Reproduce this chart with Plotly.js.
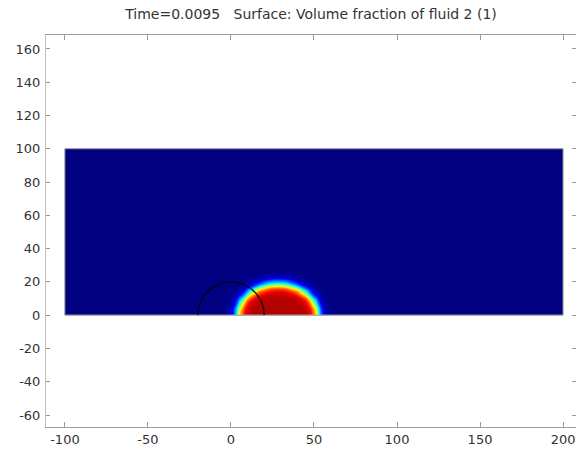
<!DOCTYPE html>
<html>
<head>
<meta charset="utf-8">
<script src="https://cdn.plot.ly/plotly-3.0.1.min.js"></script>
<style>html,body{margin:0;padding:0;background:#fff;}#plot{width:576px;height:451px;}</style>
</head>
<body>
<div id="plot"></div>
<script>
// ---- data ----
const titleText = 'Time=0.0095\u00a0\u00a0\u00a0Surface: Volume fraction of fluid 2 (1)';
const domainX = [-100, 200];          // fluid domain extent (x)
const domainY = [0, 100];             // fluid domain extent (y)
const circleCenterX = [0];            // initial droplet outline
const circleCenterY = [0];
const circleRadius = [20];
// sample nodes of the volume-fraction field (droplet region)
const xNodes = [-6,-4,-2,0,2,4,6,8,10,12,14,16,18,20,22,24,26,28,30,32,34,36,38,40,42,44,46,48,50,52,54,56,58,60,62];
const yNodes = [0,2,4,6,8,10,12,14,16,18,20,22,24,26,28];
// volume fraction of fluid 2, one row per yNode, one column per xNode
const vf0  = [0,0.01,0.03,0.09,0.25,0.50,0.75,0.88,0.93,0.94,0.95,0.95,0.95,0.95,0.95,0.95,0.95,0.95,0.95,0.95,0.95,0.95,0.95,0.95,0.95,0.94,0.93,0.88,0.75,0.50,0.25,0.09,0.03,0.01,0];
const vf2  = [0,0.01,0.03,0.09,0.23,0.48,0.73,0.87,0.92,0.94,0.95,0.95,0.95,0.95,0.95,0.95,0.95,0.95,0.95,0.95,0.95,0.95,0.95,0.95,0.95,0.94,0.92,0.87,0.73,0.48,0.23,0.09,0.03,0.01,0];
const vf4  = [0,0.01,0.03,0.07,0.20,0.43,0.68,0.84,0.91,0.94,0.95,0.95,0.95,0.95,0.95,0.95,0.95,0.95,0.95,0.95,0.95,0.95,0.95,0.95,0.95,0.94,0.91,0.84,0.68,0.43,0.20,0.07,0.03,0.01,0];
const vf6  = [0,0.01,0.02,0.06,0.15,0.34,0.59,0.78,0.88,0.92,0.94,0.95,0.95,0.95,0.95,0.95,0.95,0.95,0.95,0.95,0.95,0.95,0.95,0.95,0.94,0.92,0.88,0.78,0.59,0.34,0.15,0.06,0.02,0.01,0];
const vf8  = [0,0,0.01,0.04,0.10,0.24,0.46,0.68,0.83,0.90,0.93,0.94,0.95,0.95,0.95,0.95,0.95,0.95,0.95,0.95,0.95,0.95,0.95,0.94,0.93,0.90,0.83,0.68,0.46,0.24,0.10,0.04,0.01,0,0];
const vf10 = [0,0,0.01,0.02,0.06,0.15,0.32,0.53,0.71,0.83,0.89,0.92,0.93,0.94,0.95,0.95,0.95,0.95,0.95,0.95,0.95,0.94,0.93,0.92,0.89,0.83,0.71,0.53,0.32,0.15,0.06,0.02,0.01,0,0];
const vf12 = [0,0,0,0.01,0.04,0.09,0.18,0.34,0.53,0.70,0.80,0.86,0.90,0.92,0.93,0.93,0.93,0.93,0.93,0.93,0.93,0.92,0.90,0.86,0.80,0.70,0.53,0.34,0.18,0.09,0.04,0.01,0,0,0];
const vf14 = [0,0,0,0.01,0.02,0.04,0.10,0.19,0.33,0.49,0.63,0.74,0.81,0.85,0.87,0.89,0.90,0.90,0.90,0.89,0.87,0.85,0.81,0.74,0.63,0.49,0.33,0.19,0.10,0.04,0.02,0.01,0,0,0];
const vf16 = [0,0,0,0,0.01,0.02,0.04,0.09,0.17,0.27,0.40,0.52,0.61,0.68,0.74,0.78,0.79,0.80,0.79,0.78,0.74,0.68,0.61,0.52,0.40,0.27,0.17,0.09,0.04,0.02,0.01,0,0,0,0];
const vf18 = [0,0,0,0,0,0.01,0.02,0.04,0.07,0.12,0.19,0.27,0.36,0.44,0.50,0.55,0.58,0.59,0.58,0.55,0.50,0.44,0.36,0.27,0.19,0.12,0.07,0.04,0.02,0.01,0,0,0,0,0];
const vf20 = [0,0,0,0,0,0,0.01,0.02,0.03,0.05,0.08,0.11,0.16,0.21,0.25,0.29,0.30,0.31,0.30,0.29,0.25,0.21,0.16,0.11,0.08,0.05,0.03,0.02,0.01,0,0,0,0,0,0];
const vf22 = [0,0,0,0,0,0,0,0.01,0.01,0.02,0.03,0.04,0.06,0.08,0.10,0.11,0.12,0.13,0.12,0.11,0.10,0.08,0.06,0.04,0.03,0.02,0.01,0.01,0,0,0,0,0,0,0];
const vf24 = [0,0,0,0,0,0,0,0,0,0,0.01,0.01,0.02,0.03,0.03,0.04,0.04,0.04,0.04,0.04,0.03,0.03,0.02,0.01,0.01,0,0,0,0,0,0,0,0,0,0];
const vf26 = [0,0,0,0,0,0,0,0,0,0,0,0,0.01,0.01,0.01,0.01,0.01,0.01,0.01,0.01,0.01,0.01,0.01,0,0,0,0,0,0,0,0,0,0,0,0];
const vf28 = [0,0,0,0,0,0,0,0,0,0,0,0,0,0,0,0,0,0,0,0,0,0,0,0,0,0,0,0,0,0,0,0,0,0,0];
const vfRows = [vf0,vf2,vf4,vf6,vf8,vf10,vf12,vf14,vf16,vf18,vf20,vf22,vf24,vf26,vf28];
const xTicks = [-100,-50,0,50,100,150,200];
const xTickText = ['-100','-50','0','50','100','150','200'];
const yTicks = [-60,-40,-20,0,20,40,60,80,100,120,140,160];
const yTickText = ['-60','-40','-20','0','20','40','60','80','100','120','140','160'];

// ---- build heatmap table over whole domain (cell edges) ----
const xEdges = [domainX[0], xNodes[0] - (xNodes[1]-xNodes[0])/2];
for (let i = 1; i < xNodes.length; i++) xEdges.push((xNodes[i-1]+xNodes[i])/2);
xEdges.push(xNodes[xNodes.length-1] + (xNodes[xNodes.length-1]-xNodes[xNodes.length-2])/2, domainX[1]);
const yEdges = [domainY[0]];
for (let j = 1; j < yNodes.length; j++) yEdges.push((yNodes[j-1]+yNodes[j])/2);
yEdges.push(yNodes[yNodes.length-1] + (yNodes[yNodes.length-1]-yNodes[yNodes.length-2])/2, domainY[1]);
const z = vfRows.map(r => [0].concat(r, [0]));
z.push(new Array(xNodes.length + 2).fill(0));

const jet = [[0,'rgb(0,0,128)'],[0.125,'rgb(0,0,255)'],[0.375,'rgb(0,255,255)'],[0.625,'rgb(255,255,0)'],[0.875,'rgb(255,0,0)'],[1,'rgb(128,0,0)']];

const field = {
  type: 'heatmap', x: xEdges, y: yEdges, z: z,
  zmin: 0, zmax: 1, colorscale: jet, zsmooth: 'best', showscale: false, hoverinfo: 'skip'
};
const outline = {
  type: 'scatter', mode: 'lines',
  x: [domainX[0], domainX[1], domainX[1], domainX[0], domainX[0]],
  y: [domainY[0], domainY[0], domainY[1], domainY[1], domainY[0]],
  line: {color: '#8a8a8a', width: 1}, hoverinfo: 'skip', showlegend: false
};
const cx = [], cy = [];
for (let k = 0; k <= 90; k++) {
  const t = Math.PI * k / 90;
  cx.push(circleCenterX[0] + circleRadius[0] * Math.cos(t));
  cy.push(circleCenterY[0] + circleRadius[0] * Math.sin(t));
}
const circle = {
  type: 'scatter', mode: 'lines', x: cx, y: cy,
  line: {color: 'rgba(0,0,0,0.85)', width: 1.3}, hoverinfo: 'skip', showlegend: false
};

const axisFont = {family: 'DejaVu Sans, sans-serif', size: 13, color: '#333'};
const layout = {
  width: 576, height: 451,
  margin: {l: 46, r: 0, t: 35, b: 24, pad: 0},
  paper_bgcolor: '#fff', plot_bgcolor: '#fff',
  showlegend: false,
  title: {text: titleText, font: {family: 'DejaVu Sans, sans-serif', size: 14, color: '#333'},
          x: 0.5, xref: 'paper', y: 1 - 14/451, yref: 'container', yanchor: 'middle', xanchor: 'center'},
  xaxis: {range: [-111.4, 207.8], tickvals: xTicks, ticktext: xTickText, ticks: 'inside', ticklen: 5, tickcolor: '#999',
          showline: true, linecolor: '#a0a0a0', linewidth: 1, mirror: 'ticks', showgrid: false, zeroline: false,
          tickfont: axisFont},
  yaxis: {range: [-67.2, 168.4], tickvals: yTicks, ticktext: yTickText, ticks: 'inside', ticklen: 4, tickcolor: '#999',
          showline: true, linecolor: '#c0c0c0', linewidth: 1, mirror: 'ticks', showgrid: false, zeroline: false,
          tickfont: axisFont, ticklabelstandoff: 2}
};
Plotly.newPlot('plot', [field, outline, circle], layout, {displayModeBar: false, staticPlot: true});
</script>
</body>
</html>
